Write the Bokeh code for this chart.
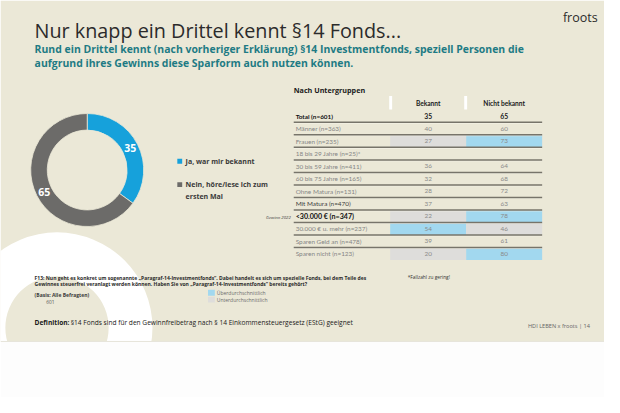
import numpy as np
from bokeh.plotting import figure
from bokeh.models import Range1d, ColumnDataSource
from bokeh.core.properties import value
from bokeh.embed import file_html
from bokeh.resources import INLINE

# ---------------- data ----------------
title = "Nur knapp ein Drittel kennt §14 Fonds..."
subtitle = ["Rund ein Drittel kennt (nach vorheriger Erklärung) §14 Investmentfonds, speziell Personen die",
            "aufgrund ihres Gewinns diese Sparform auch nutzen können."]
donut_labels = ["Ja, war mir bekannt", "Nein, höre/lese ich zum\nersten Mal"]
donut_values = [35, 65]
donut_colors = ["#16a1db", "#6c6b69"]

columns = ["Bekannt", "Nicht bekannt"]
groups = ["Total (n=601)", "Männer (n=363)", "Frauen (n=235)", "18 bis 29 Jahre (n=25)*",
          "30 bis 59 Jahre (n=411)", "60 bis 75 Jahre (n=165)", "Ohne Matura (n=131)",
          "Mit Matura (n=470)", "<30.000 € (n=347)", "30.000 € u. mehr (n=237)",
          "Sparen Geld an (n=478)", "Sparen nicht (n=123)"]
bekannt = [35, 40, 27, None, 36, 32, 28, 37, 22, 54, 39, 20]
nicht_bekannt = [65, 60, 73, None, 64, 68, 72, 63, 78, 46, 61, 80]
# 1 = überdurchschnittlich, -1 = unterdurchschnittlich, 0 = none
flag_bekannt = [0, 0, -1, 0, 0, 0, 0, 0, -1, 1, 0, -1]
flag_nicht = [0, 0, 1, 0, 0, 0, 0, 0, 1, -1, 0, 1]

# ---------------- style ----------------
BG = "#ebe8d7"
BLUE_HL = "#a2d8ef"
GRAY_HL = "#dedddb"
TEAL = "#1e7b84"
F = value("Open Sans")
FT = value("Lato")

W, H = 604, 397
SCALE = W / 620.0
p = figure(width=W, height=H, x_range=Range1d(0, 620), y_range=Range1d(-H / SCALE, 0),
           output_backend="svg", toolbar_location=None, min_border=0)
p.axis.visible = False
p.grid.visible = False
p.outline_line_color = None
p.background_fill_color = "#ffffff"
p.border_fill_color = "#ffffff"

Y = lambda s: -s  # slide pixel row -> data y

# slide background
p.quad(left=0, right=620, top=Y(0), bottom=Y(350), fill_color=BG, line_color=None)
# decorative ring
p.annulus(x=[58], y=[Y(336)], inner_radius=53, outer_radius=98, fill_color="#ffffff", line_color=None)
# page below slide
p.quad(left=0, right=620, top=Y(350), bottom=Y(420), fill_color="#fdfdfd", line_color=None)
p.segment(x0=0, x1=620, y0=Y(350), y1=Y(350), line_color="#e6e4da", line_width=1)

# ---------------- header texts ----------------
p.text(x=[35], y=[Y(31)], text=[title], text_font=F, text_font_size="19.8px",
       text_color="#2b2b2b", text_baseline="middle")
p.text(x=[35, 35], y=[Y(50), Y(64)], text=subtitle, text_font=F, text_font_size="10.45px",
       text_color=TEAL, text_font_style="bold", text_baseline="middle")
p.text(x=[613], y=[Y(17)], text=["froots"], text_font=F, text_font_size="12.5px",
       text_color="#2b2b2b", text_align="right", text_baseline="middle")

# ---------------- donut ----------------
cx, cy, r_in, r_out = 89, Y(174), 41, 58
vals = np.array(donut_values, dtype=float)
cum = np.cumsum(vals) / vals.sum() * 2 * np.pi
prev = np.concatenate([[0], cum[:-1]])
start = np.pi / 2 - cum
end = np.pi / 2 - prev
dsrc = ColumnDataSource(dict(start=start, end=end, color=donut_colors))
p.annular_wedge(x=cx, y=cy, inner_radius=r_in, outer_radius=r_out, start_angle="start",
                end_angle="end", fill_color="color", line_color=BG, line_width=0.8, source=dsrc)
mid = (start + end) / 2
rm = (r_in + r_out) / 2
p.text(x=cx + rm * np.cos(mid), y=cy + rm * np.sin(mid), text=[str(v) for v in donut_values],
       text_font=F, text_font_size="10.5px", text_font_style="bold", text_color="#ffffff",
       text_align="center", text_baseline="middle")

# legend
ly = [Y(165), Y(189)]
p.rect(x=[184, 184], y=ly, width=5, height=5, fill_color=donut_colors, line_color=None)
for i, lab in enumerate(donut_labels):
    for j, line in enumerate(lab.split("\n")):
        p.text(x=[190], y=[ly[i] - 12 * j], text=[line], text_font=F, text_font_size="7px",
               text_font_style="bold", text_color="#3a3a3a", text_baseline="middle")

# ---------------- table ----------------
p.text(x=[301], y=[Y(92)], text=["Nach Untergruppen"], text_font=F, text_font_size="7.2px",
       text_font_style="bold", text_color="#1a1a1a", text_baseline="middle")
col_left = [400, 478]
col_w = 78
col_c = [c + col_w / 2 for c in col_left]
p.text(x=col_c, y=[Y(105)] * 2, text=columns, text_font=FT, text_font_size="6.6px",
       text_font_style="bold", text_color="#1a1a1a", text_align="center", text_baseline="middle")
p.quad(left=[399, 476], right=[402, 479], top=[Y(98)] * 2, bottom=[Y(112)] * 2,
       fill_color="#ffffff", line_color=None)

row_h = 12.85
top0 = 112.2
n = len(groups)
tops = [top0 + row_h * i for i in range(n)]
cells_l, cells_r, cells_t, cells_b, cells_c = [], [], [], [], []
for i in range(n):
    for k, flags in enumerate([flag_bekannt, flag_nicht]):
        if flags[i] != 0:
            cells_l.append(col_left[k]); cells_r.append(col_left[k] + col_w)
            cells_t.append(Y(tops[i])); cells_b.append(Y(tops[i] + row_h))
            cells_c.append(BLUE_HL if flags[i] > 0 else GRAY_HL)
p.quad(left=cells_l, right=cells_r, top=cells_t, bottom=cells_b, fill_color=cells_c, line_color=None)

# row rules
ry = [Y(t + row_h) for t in tops[:-1]]
p.segment(x0=[301] * len(ry), x1=[556] * len(ry), y0=[y - 0.9 for y in ry], y1=[y - 0.9 for y in ry],
          line_color="#f6f4ea", line_width=0.8)
p.segment(x0=[301] * len(ry), x1=[556] * len(ry), y0=ry, y1=ry, line_color="#77746a", line_width=1.5)

centers = [Y(t + row_h / 2) for t in tops]
lab_color = ["#111111" if i in (0, 8) else ("#3c3c3c" if i == 7 else "#858585") for i in range(n)]
lab_style = ["bold" if i in (0, 8) else "normal" for i in range(n)]
lab_size = ["6.4px" if i == 0 else ("7.1px" if i == 8 else "6.4px") for i in range(n)]
tsrc = ColumnDataSource(dict(x=[303] * n, y=centers, text=groups, color=lab_color,
                             style=lab_style, size=lab_size))
p.text(x="x", y="y", text="text", text_color="color", text_font_style="style",
       text_font_size="size", text_font=FT, text_baseline="middle", source=tsrc)

for k, vals_k in enumerate([bekannt, nicht_bekannt]):
    idx = [i for i in range(n) if vals_k[i] is not None]
    vsrc = ColumnDataSource(dict(
        x=[col_c[k]] * len(idx), y=[centers[i] for i in idx], text=[str(vals_k[i]) for i in idx],
        color=["#222222" if i == 0 else "#8a8a8a" for i in idx],
        style=["bold" if i == 0 else "normal" for i in idx],
        size=["6.8px" if i == 0 else "6.4px" for i in idx]))
    p.text(x="x", y="y", text="text", text_color="color", text_font_style="style",
           text_font_size="size", text_font=FT, text_align="center", text_baseline="middle", source=vsrc)

p.text(x=[298], y=[Y(222)], text=["Gewinn 2022"], text_font=F, text_font_size="4.3px",
       text_font_style="italic", text_color="#444444", text_align="right", text_baseline="middle")

# ---------------- footer ----------------
p.text(x=[418], y=[Y(284)], text=["*Fallzahl zu gering!"], text_font=F, text_font_size="4.8px",
       text_color="#333333", text_baseline="middle")
question = ["F13: Nun geht es konkret um sogenannte \u201eParagraf-14-Investmentfonds\u201c. Dabei handelt es sich um spezielle Fonds, bei dem Teile des",
            "Gewinnes steuerfrei veranlagt werden können. Haben Sie von \u201eParagraf-14-Investmentfonds\u201c bereits gehört?"]
p.text(x=[35, 35], y=[Y(284.5), Y(291.5)], text=question, text_font=F, text_font_size="5px",
       text_font_style="bold", text_color="#2a2a2a", text_baseline="middle")
p.text(x=[35], y=[Y(302)], text=["(Basis: Alle Befragten)"], text_font=F, text_font_size="5px",
       text_font_style="bold", text_color="#3a3a3a", text_baseline="middle")
p.text(x=[47], y=[Y(309)], text=["601"], text_font=F, text_font_size="4.8px",
       text_color="#555555", text_baseline="middle")

p.quad(left=[213, 213], right=[220, 220], top=[Y(297), Y(304)], bottom=[Y(303), Y(310)],
       fill_color=[BLUE_HL, GRAY_HL], line_color=None)
p.text(x=[222, 222], y=[Y(300), Y(307.5)], text=["Überdurchschnittlich", "Unterdurchschnittlich"],
       text_font=F, text_font_size="5px", text_color="#6a6a6a", text_baseline="middle")

p.text(x=[35], y=[Y(331)], text=["Definition:"], text_font=F, text_font_size="6.6px",
       text_font_style="bold", text_color="#1a1a1a", text_baseline="middle")
p.text(x=[72], y=[Y(331)], text=["§14 Fonds sind für den Gewinnfreibetrag nach § 14 Einkommensteuergesetz (EStG) geeignet"],
       text_font=F, text_font_size="6.6px", text_color="#1a1a1a", text_baseline="middle")
p.text(x=[605], y=[Y(334)], text=["HDI LEBEN x froots | 14"], text_font=F, text_font_size="5.6px",
       text_color="#666666", text_align="right", text_baseline="middle")

open("out.html", "w").write(file_html(p, INLINE))
